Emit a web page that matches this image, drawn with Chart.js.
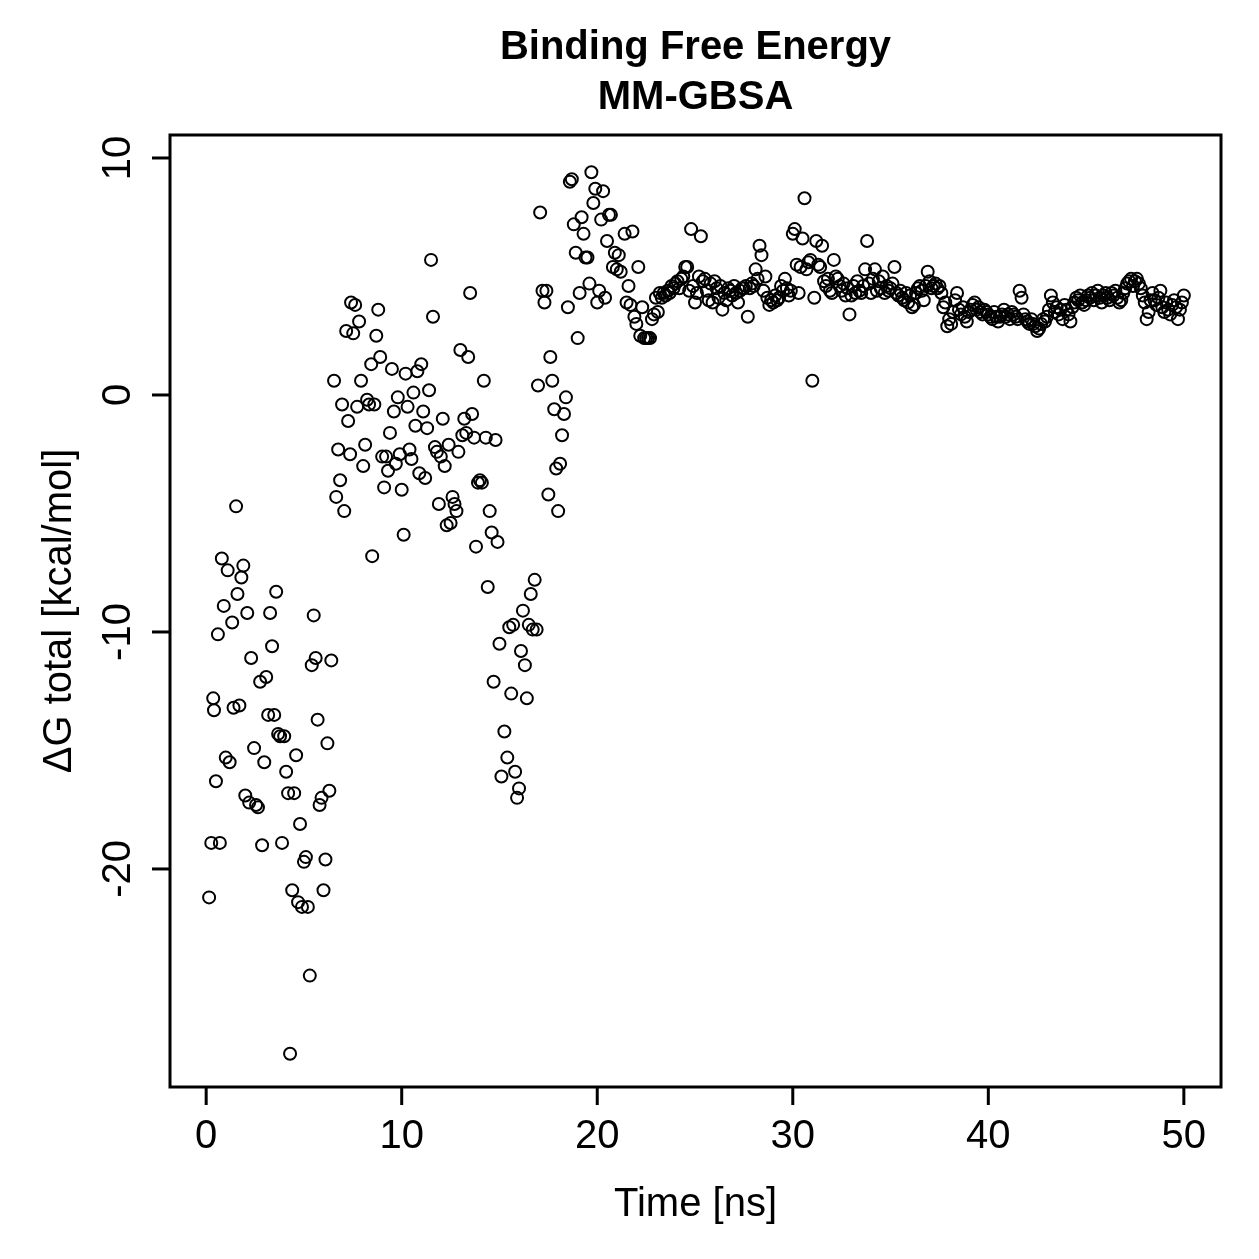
<!DOCTYPE html>
<html>
<head>
<meta charset="UTF-8">
<title>Binding Free Energy MM-GBSA</title>
<script src="https://cdn.jsdelivr.net/npm/chart.js"></script>
<style>
body { margin: 0; background: #ffffff; }
#wrap { width: 1259px; height: 1259px; }
</style>
</head>
<body>
<div id="wrap"><canvas id="chart" width="1259" height="1259"></canvas></div>
<script>
// time [ns] and dG total [kcal/mol], split by phase
const timeEarly = [0.15,0.26,0.36,0.4,0.5,0.6,0.7,0.8,0.9,1.0,1.1,1.2,1.33,1.4,1.53,1.6,1.7,1.8,1.9,2.0,2.1,2.2,2.3,2.45,2.55,2.65,2.76,2.86,2.97,3.07,3.17,3.27,3.37,3.48,3.58,3.68,3.78,3.88,3.99,4.09,4.19,4.29,4.4,4.5,4.6,4.7,4.8,4.9,5.0,5.1,5.2,5.3,5.4,5.5,5.6,5.7,5.8,5.9,6.0,6.1,6.2,6.3,6.4];
const dgEarly = [-21.2,-18.9,-12.8,-13.3,-16.3,-10.1,-18.9,-6.9,-8.9,-15.3,-7.4,-15.5,-9.6,-13.2,-4.7,-8.4,-13.1,-7.7,-7.2,-16.9,-9.2,-17.2,-11.1,-14.9,-17.3,-17.4,-12.1,-19.0,-15.5,-11.9,-13.5,-9.2,-10.6,-13.5,-8.3,-14.3,-14.4,-18.9,-14.4,-15.9,-16.8,-27.8,-20.9,-16.8,-15.2,-21.4,-18.1,-21.6,-19.7,-19.5,-21.6,-24.5,-11.4,-9.3,-11.1,-13.7,-17.3,-17.0,-20.9,-19.6,-14.7,-16.7,-11.2];

const timeMid = [6.54,6.65,6.75,6.85,6.95,7.06,7.16,7.26,7.36,7.41,7.52,7.62,7.72,7.82,7.92,8.03,8.13,8.23,8.33,8.44,8.49,8.6,8.7,8.8,8.9,9.0,9.1,9.2,9.3,9.4,9.5,9.6,9.7,9.8,9.9,10.0,10.1,10.2,10.3,10.4,10.5,10.6,10.7,10.8,10.9,11.0,11.1,11.2,11.3,11.4,11.5,11.6,11.7,11.8,11.9,12.0,12.1,12.2,12.3,12.4,12.5,12.6,12.7,12.8,12.9,13.0,13.1,13.2,13.3,13.4,13.5,13.6,13.7,13.8,13.9,14.0,14.1,14.2,14.3,14.4,14.5,14.6,14.7,14.8,14.9,15.0,15.1,15.25,15.4,15.5,15.6,15.7,15.8,15.9,16.0,16.1,16.2,16.3,16.4,16.5,16.6,16.7,16.8,16.9];
const dgMid = [0.6,-4.3,-2.3,-3.6,-0.4,-4.9,2.7,-1.1,-2.5,3.9,2.6,3.8,-0.5,3.1,0.6,-3.0,-2.1,-0.2,-0.4,1.3,-6.8,-0.4,2.5,3.6,1.6,-2.6,-3.9,-2.6,-3.2,-1.6,1.1,-0.7,-2.9,-0.1,-2.5,-4.0,-5.9,0.9,-0.5,-2.3,-2.7,0.1,-1.3,1.0,-3.3,1.3,-0.7,-3.5,-1.4,0.2,5.7,3.3,-2.2,-2.4,-4.6,-2.6,-1.0,-3.0,-5.5,-2.1,-5.4,-4.3,-4.6,-4.9,-2.4,1.9,-1.7,-1.0,-1.6,1.6,4.3,-0.8,-1.8,-6.4,-3.7,-3.6,-3.7,0.6,-1.8,-8.1,-4.9,-5.8,-12.1,-1.9,-6.2,-10.5,-16.1,-14.2,-15.3,-9.8,-12.6,-9.7,-15.9,-17.0,-16.6,-10.8,-9.1,-11.4,-12.8,-9.7,-8.4,-9.9,-7.8,-9.9];

const timeLate = [16.97,17.08,17.2,17.3,17.4,17.5,17.6,17.7,17.8,17.9,18.0,18.1,18.2,18.3,18.4,18.5,18.6,18.7,18.8,18.9,19.0,19.1,19.2,19.3,19.4,19.5,19.6,19.7,19.8,19.9,20.0,20.1,20.2,20.3,20.4,20.5,20.6,20.7,20.8,20.9,21.0,21.1,21.2,21.4,21.5,21.6,21.7,21.8,21.9,22.0,22.1,22.2,22.3,22.4,22.5,22.6,22.7,22.8,22.9,23.0,23.1,23.2];
const dgLate = [0.4,7.7,4.4,3.9,4.4,-4.2,1.6,0.6,-0.6,-3.1,-4.9,-2.9,-1.7,-0.8,-0.1,3.7,9.0,9.1,7.2,6.0,2.4,4.3,7.5,6.8,5.8,5.8,4.7,9.4,8.1,8.7,3.9,4.4,7.4,8.6,4.1,6.5,7.6,7.6,5.4,6.0,5.3,5.9,5.2,6.8,3.9,4.6,3.8,6.9,3.3,3.0,5.4,2.5,3.7,2.4,2.4,2.4,2.4,3.2,3.4,4.1,3.5,4.3];

const timeEq = [23.3,23.4,23.5,23.6,23.7,23.8,23.9,
  24.0,24.1,24.2,24.3,24.4,24.5,24.6,24.7,24.8,24.9,
  25.0,25.1,25.2,25.3,25.4,25.5,25.6,25.7,25.8,25.9,
  26.0,26.1,26.2,26.3,26.4,26.5,26.6,26.7,26.8,26.9,
  27.0,27.1,27.2,27.3,27.4,27.5,27.6,27.7,27.8,27.9,
  28.0,28.1,28.2,28.3,28.4,28.5,28.6,28.7,28.8,28.9,
  29.0,29.1,29.2,29.3,29.4,29.5,29.6,29.7,29.8,29.9,
  30.0,30.1,30.2,30.3,30.4,30.5,30.6,30.7,30.8,30.9,
  31.0,31.1,31.2,31.3,31.4,31.5,31.6,31.7,31.8,31.9,
  32.0,32.1,32.2,32.3,32.4,32.5,32.6,32.7,32.8,32.9,
  33.0,33.1,33.2,33.3,33.4,33.5,33.6,33.7,33.8,33.9,
  34.0,34.1,34.2,34.3,34.4,34.5,34.6,34.7,34.8,34.9,
  35.0,35.1,35.2,35.3,35.4,35.5,35.6,35.7,35.8,35.9,
  36.0,36.1,36.2,36.3,36.4,36.5,36.6,36.7,36.8,36.9,
  37.0,37.1,37.2,37.3,37.4,37.5,37.6,37.7,37.8,37.9,
  38.0,38.1,38.2,38.3,38.4,38.5,38.6,38.7,38.8,38.9,
  39.0,39.1,39.2,39.3,39.4,39.5,39.6,39.7,39.8,39.9,
  40.0,40.1,40.2,40.3,40.4,40.5,40.6,40.7,40.8,40.9,
  41.0,41.1,41.2,41.3,41.4,41.5,41.6,41.7,41.8,41.9,
  42.0,42.1,42.2,42.3,42.4,42.5,42.6,42.7,42.8,42.9,
  43.0,43.1,43.2,43.3,43.4,43.5,43.6,43.7,43.8,43.9,
  44.0,44.1,44.2,44.3,44.4,44.5,44.6,44.7,44.8,44.9,
  45.0,45.1,45.2,45.3,45.4,45.5,45.6,45.7,45.8,45.9,
  46.0,46.1,46.2,46.3,46.4,46.5,46.6,46.7,46.8,46.9,
  47.0,47.1,47.2,47.3,47.4,47.5,47.6,47.7,47.8,47.9,
  48.0,48.1,48.2,48.3,48.4,48.5,48.6,48.7,48.8,48.9,
  49.0,49.1,49.2,49.3,49.4,49.5,49.6,49.7,49.8,49.9,50.0];
const dgEq = [4.1,4.3,4.2,4.4,4.3,4.6,4.5,
  4.7,4.8,4.5,4.9,5.0,5.4,5.4,4.4,7.0,4.6,
  3.9,4.3,5.0,6.7,4.8,4.9,4.4,4.0,4.7,3.9,
  4.8,4.5,4.1,4.6,3.6,4.3,4.0,4.5,4.4,4.2,
  4.6,4.3,3.9,4.4,4.5,4.5,4.6,3.3,4.5,4.7,
  4.6,5.3,4.9,6.3,5.9,4.4,5.0,4.1,3.8,4.0,
  3.9,4.2,4.0,4.1,4.6,4.4,4.9,4.5,4.2,4.4,
  6.8,7.0,5.5,4.3,5.4,6.6,8.3,5.3,5.6,5.7,
  0.6,4.1,6.5,5.5,5.4,6.3,4.8,4.6,4.9,4.4,
  4.3,5.7,5.0,4.9,4.6,4.4,4.7,4.2,4.5,3.4,
  4.2,4.6,4.3,4.8,4.4,4.3,4.6,5.3,6.5,4.7,
  4.3,4.9,5.3,4.4,4.8,4.5,5.0,4.3,4.6,4.4,
  4.5,4.7,5.4,4.3,4.2,4.4,4.1,4.0,4.3,3.9,
  4.2,3.7,3.8,4.3,4.5,4.6,4.4,4.0,4.6,5.2,
  4.8,4.5,4.6,4.7,4.5,4.6,4.3,3.7,3.9,2.9,
  3.2,3.0,3.5,4.0,4.3,3.6,3.4,3.7,3.3,3.1,
  3.5,3.6,3.8,3.9,3.6,3.7,3.5,3.4,3.6,3.5,
  3.4,3.3,3.2,3.5,3.3,3.1,3.3,3.4,3.6,3.3,
  3.4,3.2,3.5,3.4,3.3,3.2,4.4,4.1,3.4,3.2,
  3.1,3.0,3.2,3.0,2.9,2.7,2.8,3.0,3.2,3.1,
  3.3,3.6,4.2,3.9,3.5,3.7,3.4,3.6,3.2,3.8,
  3.6,3.4,3.1,3.7,3.9,4.1,4.0,4.2,3.9,3.8,
  4.0,4.2,4.1,4.3,4.0,4.2,4.4,4.1,3.9,4.2,
  4.3,4.1,4.0,4.3,4.2,4.4,4.1,3.9,4.0,4.3,
  4.5,4.7,4.8,4.9,4.6,4.8,4.9,4.7,4.5,4.2,
  3.9,3.2,3.5,4.0,4.3,4.0,3.8,4.1,4.4,3.7,
  3.5,3.9,3.6,3.4,3.8,4.0,3.7,3.2,3.6,3.9,4.2];

const xTicks = [0, 10, 20, 30, 40, 50];
const yTicks = [-20, -10, 0, 10];

const allTimes = timeEarly.concat(timeMid, timeLate, timeEq);
const allDg = dgEarly.concat(dgMid, dgLate, dgEq);
const points = allTimes.map((t, i) => ({ x: t, y: allDg[i] }));

const FONT = '"Liberation Sans", Arial, Helvetica, sans-serif';

// R-style box, outward ticks, rotated y labels and titles
const rFrame = {
  id: 'rFrame',
  afterDraw(chart) {
    const ctx = chart.ctx;
    const a = chart.chartArea;
    const xs = chart.scales.x, ys = chart.scales.y;
    ctx.save();
    ctx.strokeStyle = '#000';
    ctx.fillStyle = '#000';
    ctx.lineWidth = 3;
    ctx.strokeRect(a.left, a.top, a.right - a.left, a.bottom - a.top);

    ctx.font = '40px ' + FONT;
    ctx.textAlign = 'center';
    ctx.textBaseline = 'alphabetic';
    xTicks.forEach(v => {
      const px = xs.getPixelForValue(v);
      ctx.beginPath();
      ctx.moveTo(px, a.bottom);
      ctx.lineTo(px, a.bottom + 18);
      ctx.stroke();
      ctx.fillText(String(v), px, 1148);
    });
    yTicks.forEach(v => {
      const py = ys.getPixelForValue(v);
      ctx.beginPath();
      ctx.moveTo(a.left, py);
      ctx.lineTo(a.left - 18, py);
      ctx.stroke();
      ctx.save();
      ctx.translate(130, py);
      ctx.rotate(-Math.PI / 2);
      ctx.fillText(String(v), 0, 0);
      ctx.restore();
    });

    ctx.fillText('Time [ns]', (a.left + a.right) / 2, 1216);
    ctx.save();
    ctx.translate(71, (a.top + a.bottom) / 2);
    ctx.rotate(-Math.PI / 2);
    ctx.fillText('\u0394G total [kcal/mol]', 0, 0);
    ctx.restore();

    ctx.font = 'bold 40px ' + FONT;
    ctx.fillText('Binding Free Energy', (a.left + a.right) / 2, 59);
    ctx.fillText('MM-GBSA', (a.left + a.right) / 2, 109);
    ctx.restore();
  }
};

new Chart(document.getElementById('chart'), {
  type: 'scatter',
  data: {
    datasets: [{
      data: points,
      pointStyle: 'circle',
      pointRadius: 6,
      pointBorderWidth: 2,
      borderColor: '#000',
      backgroundColor: 'rgba(0,0,0,0)'
    }]
  },
  options: {
    responsive: false,
    animation: false,
    devicePixelRatio: 1,
    layout: { padding: { left: 170, right: 38, top: 135, bottom: 172 } },
    plugins: { legend: { display: false }, tooltip: { enabled: false }, title: { display: false } },
    scales: {
      x: { type: 'linear', min: -1.85, max: 51.9, display: false },
      y: { type: 'linear', min: -29.2, max: 10.97, display: false }
    }
  },
  plugins: [rFrame]
});
</script>
</body>
</html>
